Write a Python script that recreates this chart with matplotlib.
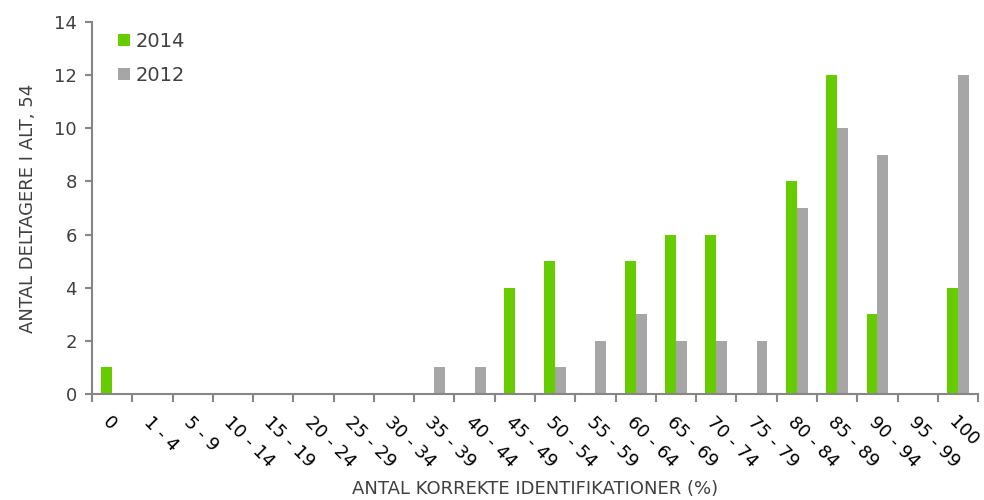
import numpy as np
import matplotlib.pyplot as plt

# Number of participants per score interval
categories = ["0", "1 - 4", "5 - 9", "10 - 14", "15 - 19", "20 - 24", "25 - 29",
              "30 - 34", "35 - 39", "40 - 44", "45 - 49", "50 - 54", "55 - 59",
              "60 - 64", "65 - 69", "70 - 74", "75 - 79", "80 - 84", "85 - 89",
              "90 - 94", "95 - 99", "100"]
values_2014 = [1, 0, 0, 0, 0, 0, 0, 0, 0, 0, 4, 5, 0, 5, 6, 6, 0, 8, 12, 3, 0, 4]
values_2012 = [0, 0, 0, 0, 0, 0, 0, 0, 1, 1, 0, 1, 2, 3, 2, 2, 2, 7, 10, 9, 0, 12]

GREEN = "#66cc00"
GREY = "#a6a6a6"
AXIS = "#868686"

plt.rcParams['font.family'] = ['DejaVu Sans']

fig = plt.figure(figsize=(9.84, 5.0), dpi=100)
ax = fig.add_axes([0.0935, 0.212, 0.9005, 0.744])

x = np.arange(len(categories))
width = 0.27
ax.bar(x - width / 2, values_2014, width, color=GREEN, label="2014")
ax.bar(x + width / 2, values_2012, width, color=GREY, label="2012")

ax.set_xlim(-0.5, len(categories) - 0.5)
ax.set_ylim(0, 14)
ax.set_yticks(range(0, 15, 2))

# category labels at centres, tick marks on boundaries
ax.set_xticks(x)
ax.set_xticklabels(categories, rotation=-45, ha='left', va='top',
                   rotation_mode='anchor', fontsize=13, color='black')
ax.tick_params(axis='x', which='major', length=0, pad=14)
ax.set_xticks(np.arange(-0.5, len(categories)), minor=True)
ax.tick_params(axis='x', which='minor', length=6, width=1.5, color=AXIS,
               direction='out')
ax.tick_params(axis='y', length=5, width=1.5, color=AXIS, labelsize=13,
               labelcolor='#404040', pad=6)

for side in ['top', 'right']:
    ax.spines[side].set_visible(False)
for side in ['left', 'bottom']:
    ax.spines[side].set_color(AXIS)
    ax.spines[side].set_linewidth(1.5)

# x title sits below the rotated labels, placed in figure coords
fig.text(0.5437, 0.022, "ANTAL KORREKTE IDENTIFIKATIONER (%)", fontsize=13,
         color='#404040', ha='center', va='center')
ax.set_ylabel("ANTAL DELTAGERE I ALT, 54", fontsize=13, color='#404040',
              labelpad=12)

ax.legend(loc='upper left', bbox_to_anchor=(0.01, 1.02), frameon=False,
          fontsize=14, labelcolor='#404040', handlelength=0.6,
          handleheight=0.6, handletextpad=0.3, labelspacing=0.75)

fig.savefig("out.png", dpi=100)
